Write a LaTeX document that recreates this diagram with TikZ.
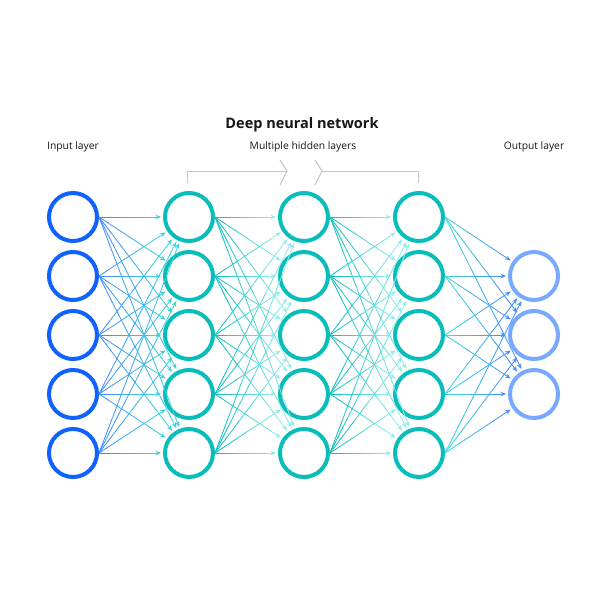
\documentclass[tikz,border=0pt]{standalone}
\usepackage{fontspec}
\setmainfont{Open Sans}
\usetikzlibrary{arrows.meta}
\definecolor{inblue}{HTML}{0F62FE}
\definecolor{teal}{HTML}{08BDBA}
\definecolor{outblue}{HTML}{78A9FF}
\definecolor{eblue}{HTML}{4589FF}
\definecolor{ecyan}{HTML}{3DDBD9}
\definecolor{elight}{HTML}{9EF0F0}
\definecolor{txt}{HTML}{161616}
\definecolor{brk}{HTML}{C6C6C6}
\tikzset{
  neuron/.style={circle,draw=#1,line width=4pt,fill=white,minimum size=48pt,inner sep=0pt},
  edge/.style={line width=0.85pt},
  tip/.style={-{Stealth[length=5.5pt,width=4.5pt]},shorten >=2pt},
  lbl/.style={text=txt,font=\fontsize{10.3}{12}\selectfont,inner sep=0pt},
  ttl/.style={text=txt,font=\fontsize{14.5}{17}\selectfont\bfseries,inner sep=0pt},
  bracket/.style={draw=brk,line width=1pt}
}
\newcommand{\gedge}[4]{%
  \path (#1.east) -- (#2)
    coordinate[pos=0] (q0) coordinate[pos=0.1667] (q1) coordinate[pos=0.3333] (q2)
    coordinate[pos=0.5] (q3) coordinate[pos=0.6667] (q4) coordinate[pos=0.8333] (q5)
    coordinate[pos=1] (q6);
  \draw[edge,color=#3!92!#4] (q0) -- (q1);
  \draw[edge,color=#3!75!#4] (q1) -- (q2);
  \draw[edge,color=#3!58!#4] (q2) -- (q3);
  \draw[edge,color=#3!42!#4] (q3) -- (q4);
  \draw[edge,color=#3!25!#4] (q4) -- (q5);
  \draw[edge,tip,color=#3!8!#4] (q5) -- (q6);
}
\begin{document}
\begin{tikzpicture}[x=1pt,y=-1pt]
\useasboundingbox[fill=white] (0,0) rectangle (600,600);
% titles
\node[ttl] (title) at (302,125) {Deep neural network};
\node[lbl] (lin) at (73,147) {Input layer};
\node[lbl] (lhid) at (303,147) {Multiple hidden layers};
\node[lbl] (lout) at (534,147) {Output layer};
% bracket
\coordinate (bl) at (187,183);
\coordinate (br) at (418,183);
\draw[bracket] (bl) -- (187,171) -- (287,171);
\draw[bracket] (280,160) -- (287,171) -- (280,185);
\draw[bracket] (br) -- (418,171) -- (322,171);
\draw[bracket] (315,160) -- (322,171) -- (315,185);
% neurons
\foreach \i/\y in {1/217,2/276,3/335,4/394,5/453}{
  \node[neuron=inblue] (a\i) at (73,\y) {};
  \node[neuron=teal] (b\i) at (189,\y) {};
  \node[neuron=teal] (c\i) at (304,\y) {};
  \node[neuron=teal] (d\i) at (419,\y) {};
}
\foreach \i/\y in {1/276,2/335,3/394}{
  \node[neuron=outblue] (e\i) at (534,\y) {};
}
% edges
\foreach \i in {1,...,5}{
  \foreach \j in {1,...,5}{
    \gedge{a\i}{b\j}{eblue}{ecyan}
    \gedge{b\i}{c\j}{teal}{elight}
    \gedge{c\i}{d\j}{teal}{elight}
  }
  \foreach \j in {1,2,3}{
    \gedge{d\i}{e\j}{ecyan}{eblue}
  }
}
\end{tikzpicture}
\end{document}
